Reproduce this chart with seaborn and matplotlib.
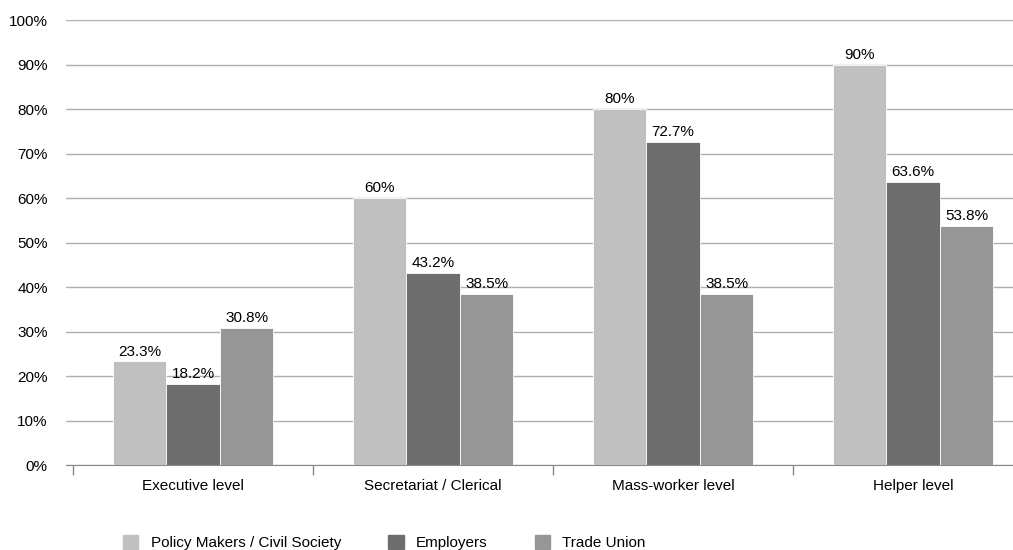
import pandas as pd
import numpy as np
import matplotlib
matplotlib.use("Agg")
import matplotlib.pyplot as plt
import seaborn as sns

# data
levels = ["Executive level", "Secretariat / Clerical", "Mass-worker level", "Helper level"]
groups = ["Policy Makers / Civil Society", "Employers", "Trade Union"]
policy_makers = [23.3, 60, 80, 90]
employers = [18.2, 43.2, 72.7, 63.6]
trade_union = [30.8, 38.5, 38.5, 53.8]
colores = ["#c0c0c0", "#6e6e6e", "#969696"]

rows = []
for g, vals in zip(groups, [policy_makers, employers, trade_union]):
    for lvl, v in zip(levels, vals):
        rows.append({"level": lvl, "group": g, "value": v})
df = pd.DataFrame(rows)

sns.set_style("white")
plt.rcParams['font.family'] = ['Liberation Sans', 'DejaVu Sans']
plt.rcParams['text.color'] = 'black'
plt.rcParams['xtick.color'] = 'black'
plt.rcParams['ytick.color'] = 'black'

fig = plt.figure(figsize=(10.13, 5.5), dpi=100)
ax = fig.add_axes([0.065, 0.1545, 0.935, 0.809])

sns.barplot(data=df, x="level", y="value", hue="group", palette=colores,
            width=0.67, gap=0, errorbar=None, ax=ax, zorder=3,
            edgecolor="white", linewidth=0.6)

for cont, g in zip(ax.containers, groups):
    etiquetas = [f"{v:g}%" for v in df[df["group"] == g]["value"]]
    ax.bar_label(cont, labels=etiquetas, padding=2, fontsize=11, color="black")

ax.set_ylim(0, 100)
ax.set_yticks(np.arange(0, 101, 10))
ax.set_yticklabels([f"{t}%" for t in range(0, 101, 10)], fontsize=11)
ax.set_xlim(-0.53, 3.417)
ax.set_xlabel("")
ax.set_ylabel("")
ax.tick_params(axis="x", which="major", length=0, labelsize=11, pad=10)
ax.set_xticks([-0.5, 0.5, 1.5, 2.5], minor=True)
ax.tick_params(axis="x", which="minor", bottom=True, length=7, color="#888888",
               width=1, direction="out")
ax.tick_params(axis="y", length=0, pad=13)
ax.yaxis.grid(True, color="#b0b0b0", linewidth=1)
ax.set_axisbelow(True)
for s in ["top", "right", "left"]:
    ax.spines[s].set_visible(False)
ax.spines["bottom"].set_color("#888888")

ax.legend_.remove()
handles = [plt.Rectangle((0, 0), 1, 1, color=c) for c in colores]
fig.legend(handles, groups, loc="lower left", bbox_to_anchor=(0.108, -0.025), ncol=3,
           frameon=False, fontsize=11, handlelength=1.0, handleheight=1.0,
           columnspacing=3.1, handletextpad=0.8)

fig.savefig("out.png", dpi=100)
